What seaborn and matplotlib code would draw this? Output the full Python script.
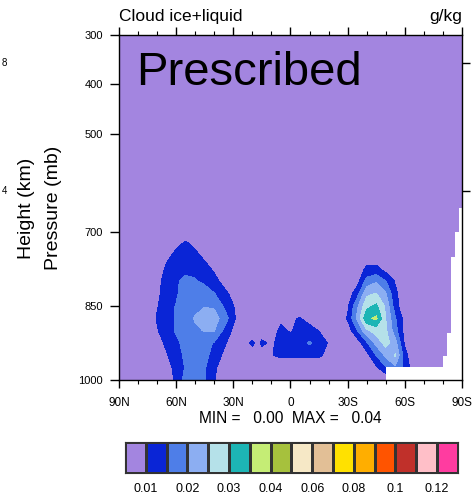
import numpy as np
import matplotlib
matplotlib.use("Agg")
import matplotlib.pyplot as plt
import matplotlib.transforms as mtransforms
from matplotlib.colors import ListedColormap, BoundaryNorm
import seaborn as sns

# ---------------- data (values in mg/kg, i.e. 0.001 g/kg) ----------------
lat = [90, 85, 80, 75, 70, 65, 60, 55, 50, 45, 40, 35, 30, 25, 20, 17.5, 15, 10, 5, 0,
       -5, -10, -15, -20, -25, -30, -35, -40, -45, -50, -55, -60, -65, -70, -75, -80, -85, -90]
plev = [300, 400, 500, 600, 650, 700, 725, 750, 775, 800, 825, 850, 875, 900, 925, 950, 975, 1000]

q300 = [1, 1, 1, 1, 1, 1, 1, 1, 1, 1, 1, 1, 1, 1, 1, 1, 1, 1, 1, 1, 1, 1, 1, 1, 1, 1, 1, 1, 1, 1, 1, 1, 1, 1, 1, 1, 1, 1]
q400 = [2, 2, 2, 2, 2, 2, 2, 2, 2, 2, 2, 2, 2, 2, 2, 2, 2, 2, 2, 2, 2, 2, 2, 2, 2, 2, 2, 2, 2, 2, 2, 2, 2, 2, 2, 2, 2, 2]
q500 = [3, 3, 3, 3, 3, 3, 3, 3, 3, 3, 3, 3, 3, 3, 3, 3, 3, 3, 3, 3, 3, 3, 3, 3, 3, 3, 3, 3, 3, 3, 3, 3, 3, 3, 3, 3, 3, 3]
q600 = [4, 4, 4, 4, 4, 4, 4, 4, 4, 4, 4, 4, 4, 4, 4, 4, 4, 4, 4, 4, 4, 4, 4, 4, 4, 4, 4, 4, 4, 4, 4, 4, 4, 4, 4, 4, 4, 4]
q650 = [4, 4, 4, 4, 4, 4, 4, 4, 4, 4, 4, 4, 4, 4, 4, 4, 4, 4, 4, 4, 4, 4, 4, 4, 4, 4, 4, 4, 4, 4, 4, 4, 4, 4, 4, 4, 4, 4]
q700 = [5, 5, 5, 5, 5, 5, 6, 7, 6, 5, 5, 5, 5, 5, 5, 5, 5, 5, 5, 5, 5, 5, 5, 5, 5, 5, 5, 5, 5, 5, 5, 5, 5, 5, 5, 5, 5, 5]
q725 = [5, 5, 5, 5, 5, 6, 9, 11, 9, 6, 5, 5, 5, 5, 5, 5, 5, 5, 5, 5, 5, 5, 5, 5, 5, 5, 5, 6, 6, 5, 5, 5, 5, 5, 5, 5, 5, 5]
q750 = [5, 5, 5, 5, 6, 9, 11.5, 12.5, 11.5, 9, 6, 5, 5, 5, 5, 5, 5, 5, 5, 5, 5, 5, 5, 5, 5, 5, 5, 7, 7, 5, 5, 5, 5, 5, 5, 5, 5, 5]
q775 = [5, 5, 5, 5, 7, 11, 13, 14, 13.5, 12, 9, 6, 5, 5, 5, 5, 5, 5, 5, 5, 5, 5, 5, 5, 5, 5, 7, 11, 11.5, 8, 6, 5, 5, 5, 5, 5, 5, 5]
q800 = [5, 5, 5, 5, 8, 12.5, 14.5, 16, 15.5, 14, 12, 8, 6, 5, 5, 5, 5, 5, 5, 5, 5, 5, 5, 5, 5, 6, 8, 17, 19.5, 15.2, 9.5, 6, 5, 5, 5, 5, 5, 5]
q825 = [5, 5, 5, 5, 8.5, 13, 14.5, 17, 18, 17.5, 15.2, 12, 8, 6, 5, 5, 5, 5, 5, 5, 5, 5, 5, 5, 5, 7, 13, 24, 25.3, 20.5, 11, 7, 5, 5, 5, 5, 5, 5]
q850 = [5, 5, 5, 5, 9.5, 13.5, 15.2, 17, 18.5, 19.8, 19.5, 14.5, 10.2, 6, 5, 5, 5, 5, 6, 6, 7, 6, 5, 5, 6, 9, 19, 28.5, 31, 24, 12, 6, 5, 5, 5, 5, 5, 5]
q875 = [5, 5, 5, 6, 10.5, 13.5, 15.3, 18, 20.5, 22, 21.5, 18.5, 11, 6.5, 5, 5, 5, 6, 9, 9.6, 10.2, 8, 6, 5, 6, 10.5, 21, 34, 36, 25, 15.5, 8, 5, 5, 5, 5, 5, 5]
q900 = [5, 5, 5, 5.5, 9.5, 13, 15.5, 17.5, 19, 20.3, 20.2, 14, 9, 6, 5, 6, 7, 8, 11, 9.5, 12, 12, 9.8, 7, 5, 7, 14.5, 24, 27, 26, 17, 8, 5, 5, 5, 5, 5, 5]
q925 = [5, 5, 5, 5, 8, 11, 14, 16.5, 17.5, 17, 14.5, 11, 7, 6, 11.5, 8, 11, 9, 12, 13, 13.5, 15.5, 13, 9.5, 6, 4, 7, 14, 21.5, 27, 22, 9, 5, 5, 5, 5, 5, 5]
q950 = [5, 5, 5, 5, 6, 9.5, 13, 16, 17, 16.5, 13, 9, 6, 5, 6, 6, 7, 9.8, 11, 11, 11, 11, 10.8, 8.5, 6, 5, 5, 8, 15, 21, 25.5, 12, 5, 5, 5, 5, 5, 5]
q975 = [5, 5, 5, 5, 5, 8, 11.5, 15.5, 16.5, 15.5, 11, 7, 5, 5, 5, 5, 5, 6, 6, 6, 6, 6, 6, 6, 5, 5, 5, 5, 9, 14.5, 19, 14, 6, 5, 5, 5, 5, 5]
q1000 = [4, 4, 4, 4, 5, 7, 11, 17, 16.5, 15.3, 10.3, 6, 5, 4, 4, 4, 4, 4, 4, 4, 4, 4, 4, 4, 4, 4, 4, 4, 6, 5, 12, 10, 5, 4, 4, 4, 4, 4]

# below-ground (missing) region over Antarctica
sfc_lat = [-50.3, -80.2, -82.3, -84.4, -86.5, -88.6, -90.0]
sfc_p = [973, 951, 904, 750, 700, 651, 651]

bounds = [0.01, 0.015, 0.02, 0.025, 0.03, 0.035, 0.04, 0.05, 0.06, 0.07, 0.08, 0.09, 0.10, 0.11, 0.12]
colors16 = ['#a385e0', '#0a25d6', '#4e7ee8', '#8caef2', '#b5e1e9', '#1db5b5', '#c5ed75', '#a6c13d',
            '#f6e8c6', '#e2bf96', '#ffe100', '#ffae00', '#ff5400', '#c0302a', '#ffbfc8', '#ff3ca0']

lat_ticks = [90, 60, 30, 0, -30, -60, -90]
lat_labels = ['90N', '60N', '30N', '0', '30S', '60S', '90S']
p_ticks = [300, 400, 500, 700, 850, 1000]
height_ticks = [8, 4]

# ---------------- plotting ----------------
sns.set_theme(style="white")
plt.rcParams['font.family'] = ['Liberation Sans', 'DejaVu Sans']
plt.rcParams['axes.linewidth'] = 1.0
for k in ['text.color', 'axes.labelcolor', 'xtick.color', 'ytick.color', 'axes.edgecolor']:
    plt.rcParams[k] = 'black'

q = np.array([q300, q400, q500, q600, q650, q700, q725, q750, q775, q800, q825, q850,
              q875, q900, q925, q950, q975, q1000]) / 1000.0

fig = plt.figure(figsize=(4.75, 4.97), dpi=100)
ax = fig.add_axes([0.2505, 0.2354, 0.7221, 0.6942])

cmap = ListedColormap(colors16[1:-1])
cmap.set_under(colors16[0])
cmap.set_over(colors16[-1])
norm = BoundaryNorm(bounds, cmap.N)
ax.contourf(lat, plev, q, levels=bounds, cmap=cmap, norm=norm, extend='both')
ax.fill_between(sfc_lat, sfc_p, 1000, step='post', color='white', lw=0, zorder=2)

ax.set_xlim(90, -90)
ax.set_ylim(1000, 300)
for s in ax.spines.values():
    s.set_color('black')
    s.set_linewidth(1.0)
    s.set_zorder(5)

ax.set_xticks(lat_ticks)
ax.set_xticklabels(lat_labels, fontsize=8.5, color='black')
ax.set_xticks(np.arange(-80, 90, 10), minor=True)
ax.tick_params(axis='x', which='major', direction='out', length=6, width=1, top=True, bottom=True,
               pad=6, colors='black')
ax.tick_params(axis='x', which='minor', direction='out', length=3, width=0.8, top=True, bottom=True,
               colors='black')
ax.set_yticks(p_ticks)
ax.set_yticklabels([str(p) for p in p_ticks], fontsize=8, color='black')
ax.tick_params(axis='y', which='major', direction='out', length=6.5, width=1, left=True, pad=5,
               colors='black')
ax.tick_params(axis='y', which='minor', left=False, right=False)

# height axis (standard atmosphere) on the right
hp = [1013.25 * (1 - 0.0065 * h * 1000 / 288.15) ** 5.2559 for h in height_ticks]
ax2 = ax.twinx()
ax2.set_ylim(1000, 300)
ax2.set_yticks(hp)
ax2.set_yticklabels([])
ax2.tick_params(axis='y', direction='out', length=5.5, width=1, right=True, colors='black')
ax2.tick_params(axis='y', which='minor', right=False, left=False)
for s in ax2.spines.values():
    s.set_visible(False)
trans = mtransforms.blended_transform_factory(fig.transFigure, ax.transData)
for h, p in zip(height_ticks, hp):
    fig.text(0.009, p, str(h), transform=trans, fontsize=7, ha='center', va='center', color='black')

ax.annotate('Cloud ice+liquid', xy=(0, 1), xycoords='axes fraction', xytext=(0, 10),
            textcoords='offset points', ha='left', va='baseline', fontsize=12.5, color='black')
ax.annotate('g/kg', xy=(1, 1), xycoords='axes fraction', xytext=(0, 10),
            textcoords='offset points', ha='right', va='baseline', fontsize=12.5, color='black')
ax.text(0.05, 0.855, 'Prescribed', transform=ax.transAxes, fontsize=34, va='baseline', ha='left',
        color='black')

fig.text(0.055, 0.5815, 'Height (km)', rotation=90, ha='center', va='center', fontsize=14, color='black')
fig.text(0.1116, 0.5815, 'Pressure (mb)', rotation=90, ha='center', va='center', fontsize=14, color='black')

qmin, qmax = np.nanmin(q), np.nanmax(q)
fig.text(0.6116, 0.157, f'MIN = {qmin:6.2f}  MAX = {qmax:6.2f}', ha='center', va='center',
         fontsize=11.2, color='black')

# label bar
cax = fig.add_axes([0.263, 0.0483, 0.701, 0.0624])
sns.heatmap(np.arange(16).reshape(1, -1), ax=cax, cmap=ListedColormap(colors16), cbar=False,
            linewidths=0.8, linecolor='#333333', xticklabels=False, yticklabels=False)
for s in cax.spines.values():
    s.set_visible(True)
    s.set_color('#333333')
    s.set_linewidth(0.8)
cax.set_xticks(np.arange(1, 16, 2))
cax.set_xticklabels([f'{b:g}' for b in bounds[::2]], fontsize=9, color='black')
cax.tick_params(axis='x', length=0, pad=7, bottom=True)
cax.set_yticks([])

fig.savefig('out.png', dpi=100)
